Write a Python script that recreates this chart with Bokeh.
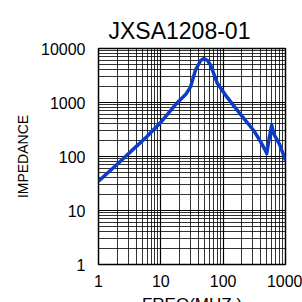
from bokeh.plotting import figure
from bokeh.models import FixedTicker, Title
from bokeh.embed import file_html
from bokeh.resources import INLINE

freq_mhz = [1, 2, 3.7, 6, 9.9, 18.3, 25, 30, 36, 43.6, 49, 56, 63, 80, 117, 190, 311, 400, 480, 500, 540, 600, 650, 800, 1000]
impedance = [35, 72, 140, 235, 426, 990, 1400, 1950, 4000, 6000, 6500, 6000, 4900, 2300, 1230, 600, 300, 187, 127, 113, 200, 380, 260, 170, 85]

x_ticks = [1, 10, 100, 1000]
y_ticks = [1, 10, 100, 1000, 10000]

minor_x = [m * d for d in [1, 10, 100] for m in range(2, 10)]
minor_y = [m * d for d in [1, 10, 100, 1000] for m in range(2, 10)]

FONT = "Liberation Sans"

p = figure(width=302, height=316, x_axis_type="log", y_axis_type="log",
           x_range=(1, 1000), y_range=(1, 10000),
           output_backend="svg", toolbar_location=None,
           min_border_left=98, min_border_right=17, min_border_top=48, min_border_bottom=20)

p.title = Title(text="JXSA1208-01", align="left", offset=10,
                text_font=FONT, text_font_size="23px", text_font_style="normal",
                text_color="black")

for ax, ticks, minors in [(p.xaxis[0], x_ticks, minor_x), (p.yaxis[0], y_ticks, minor_y)]:
    ax.ticker = FixedTicker(ticks=ticks, minor_ticks=minors)
    ax.major_label_text_font = FONT
    ax.major_label_text_font_size = "16px"
    ax.major_label_text_color = "black"
    ax.axis_line_color = None
    ax.major_tick_line_color = None
    ax.minor_tick_line_color = None
    ax.axis_label_text_font = FONT
    ax.axis_label_text_font_style = "normal"
    ax.axis_label_text_color = "black"

p.xaxis.major_label_overrides = {1: "1", 10: "10", 100: "100", 1000: "1000"}
p.yaxis.major_label_overrides = {1: "1", 10: "10", 100: "100", 1000: "1000", 10000: "10000"}
p.xaxis.axis_label = "FREQ(MHZ )"
p.xaxis.axis_label_text_font_size = "17px"
p.xaxis.axis_label_standoff = 5
p.xaxis.major_label_standoff = 4
p.yaxis.axis_label = "IMPEDANCE"
p.yaxis.axis_label_text_font_size = "14px"
p.yaxis.axis_label_standoff = 7
p.yaxis.major_label_standoff = 7

for g in [p.xgrid[0], p.ygrid[0]]:
    g.grid_line_color = "black"
    g.grid_line_width = 1.2
    g.minor_grid_line_color = "black"
    g.minor_grid_line_alpha = 0.8
    g.minor_grid_line_width = 1

p.outline_line_color = "black"
p.outline_line_width = 1.5

p.line(freq_mhz, impedance, line_color="#0a3cc8", line_width=3.5, line_join="round")

open("out.html", "w").write(file_html(p, INLINE))
